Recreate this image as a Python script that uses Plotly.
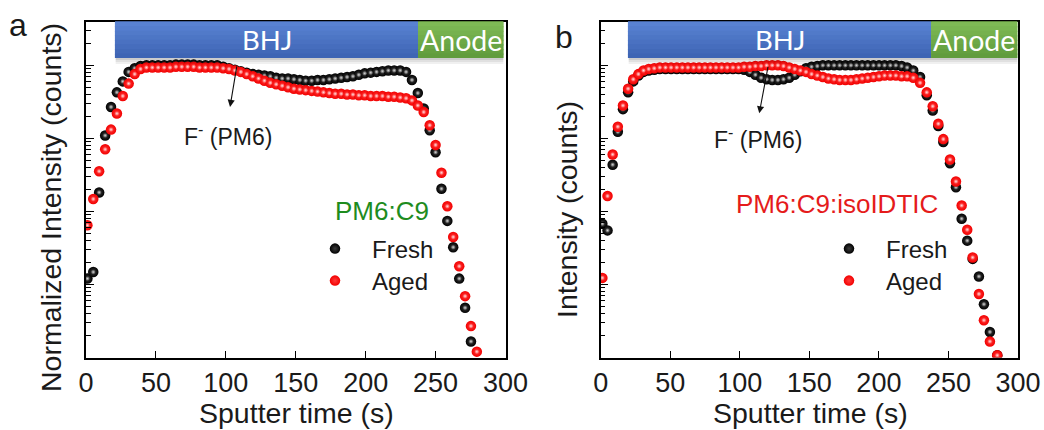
import numpy as np
import plotly.graph_objects as go

# ---------------- data ----------------
# Sputter time (s), panel a (PM6:C9)
time_a = [1.0, 5.2, 9.4, 13.7, 17.9, 22.1, 26.3, 30.5, 34.8, 39.0,
          43.2, 47.4, 51.6, 55.9, 60.1, 64.3, 68.5, 72.7, 77.0, 81.2,
          85.4, 89.6, 93.8, 98.1, 102.3, 106.5, 110.7, 114.9, 119.2, 123.4,
          127.6, 131.8, 136.0, 140.3, 144.5, 148.7, 152.9, 157.1, 161.4, 165.6,
          169.8, 174.0, 178.2, 182.5, 186.7, 190.9, 195.1, 199.3, 203.6, 207.8,
          212.0, 216.2, 220.4, 224.7, 228.9, 233.1, 237.3, 241.5, 245.8, 250.0,
          254.2, 258.4, 262.6, 266.9, 271.1, 275.3, 279.5]

# F- (PM6) intensity, log10 of counts
fresh_a_log10 = [1.08, 1.17, 2.26, 3.04, 3.43, 3.63, 3.78, 3.91, 3.96, 3.99,
                 4.00, 4.00, 4.00, 4.00, 4.00, 4.01, 4.01, 4.01, 4.01, 4.00,
                 4.00, 4.00, 4.00, 3.98, 3.96, 3.94, 3.92, 3.90, 3.88, 3.87,
                 3.86, 3.85, 3.83, 3.82, 3.82, 3.81, 3.80, 3.79, 3.79, 3.80,
                 3.80, 3.81, 3.82, 3.83, 3.84, 3.85, 3.87, 3.89, 3.90, 3.91,
                 3.92, 3.93, 3.93, 3.93, 3.91, 3.80, 3.62, 3.41, 3.11, 2.81,
                 2.31, 1.87, 1.51, 1.08, 0.68, 0.22, -0.25]
aged_a_log10 = [1.81, 2.17, 2.55, 2.85, 3.12, 3.34, 3.58, 3.75, 3.88, 3.95,
                3.97, 3.97, 3.97, 3.97, 3.97, 3.98, 3.98, 3.98, 3.98, 3.97,
                3.97, 3.97, 3.97, 3.96, 3.95, 3.93, 3.91, 3.88, 3.85, 3.82,
                3.79, 3.76, 3.74, 3.72, 3.70, 3.68, 3.67, 3.66, 3.65, 3.64,
                3.63, 3.62, 3.61, 3.61, 3.60, 3.60, 3.59, 3.59, 3.58, 3.58,
                3.58, 3.57, 3.57, 3.56, 3.55, 3.52, 3.45, 3.36, 3.18, 2.91,
                2.53, 2.07, 1.65, 1.25, 0.84, 0.43, 0.08]

# Sputter time (s), panel b (PM6:C9:isoIDTIC)
time_b = [1.2, 4.9, 8.6, 12.3, 16.0, 19.7, 23.4, 27.1, 30.8, 34.5,
          38.5, 42.5, 46.6, 50.6, 54.7, 58.7, 62.7, 66.8, 70.8, 74.9,
          78.9, 82.9, 87.0, 91.0, 95.1, 99.1, 103.1, 107.2, 111.2, 115.3,
          119.3, 123.3, 127.4, 131.4, 135.5, 139.5, 143.5, 147.6, 151.6, 155.7,
          159.7, 163.7, 167.8, 171.8, 175.9, 179.9, 183.9, 188.0, 192.0, 196.1,
          200.1, 204.1, 208.2, 212.2, 216.3, 220.3,
          224.7, 229.6, 234.4, 238.7, 242.7, 246.3, 251.1, 255.4, 259.5, 263.5,
          267.4, 271.9, 275.5, 279.8, 285.1]
fresh_b_log10 = [1.83, 1.74, 2.64, 3.09, 3.40, 3.63, 3.78, 3.86, 3.91, 3.93,
                 3.94, 3.95, 3.95, 3.95, 3.95, 3.95, 3.95, 3.95, 3.95, 3.95,
                 3.95, 3.95, 3.95, 3.95, 3.95, 3.95, 3.94, 3.91, 3.87, 3.83,
                 3.81, 3.80, 3.80, 3.81, 3.83, 3.87, 3.92, 3.96, 3.98, 3.99,
                 4.00, 4.00, 4.00, 4.00, 4.00, 4.00, 4.00, 4.00, 4.00, 4.00,
                 4.00, 4.00, 4.00, 4.00, 3.99, 3.97,
                 3.93, 3.84, 3.59, 3.38, 3.17, 2.95, 2.66, 2.33, 1.90, 1.60,
                 1.35, 1.11, 0.73, 0.35, 0.03]
aged_b_log10 = [1.09, 2.21, 2.78, 3.16, 3.45, 3.68, 3.81, 3.88, 3.93, 3.95,
                3.96, 3.97, 3.97, 3.97, 3.97, 3.97, 3.97, 3.97, 3.97, 3.97,
                3.97, 3.97, 3.97, 3.97, 3.97, 3.97, 3.98, 3.98, 3.99, 3.99,
                4.00, 4.00, 4.00, 3.99, 3.97, 3.95, 3.93, 3.91, 3.88, 3.86,
                3.84, 3.82, 3.81, 3.80, 3.80, 3.80, 3.81, 3.82, 3.83, 3.84,
                3.85, 3.86, 3.86, 3.86, 3.85, 3.85,
                3.83, 3.76, 3.63, 3.44, 3.20, 2.99, 2.71, 2.41, 2.08, 1.75,
                1.37, 0.87, 0.51, 0.22, 0.03]

series_names = ["Fresh", "Aged"]
sample_names = ["PM6:C9", "PM6:C9:isoIDTIC"]
layer_names = ["BHJ", "Anode"]
# layer boundaries along the sputter-time axis (s)
layers_a = [20.7, 237.5, 298.5]
layers_b = [19.6, 237.6, 299.5]

# ---------------- style ----------------
W, H = 1044, 430
TXT = "#1a1a1a"
FONT = "Liberation Sans"
# (body colour, soft body centre, highlight centre)
BALL_BLACK = ("#000000", "#3c3c3c", "#d8d8d8")
BALL_RED = ("#f20000", "#ff3a3a", "#ffe0e0")

# plot-area boxes in pixels
box_a = (86, 505.5)
box_b = (600.7, 1018)
top_px, bot_px = 21.5, 357.5


def px_x(p):
    return p / W


def px_y(p):
    return 1 - p / H


def mix(c1, c2, f):
    a = [int(c1[i:i + 2], 16) for i in (1, 3, 5)]
    b = [int(c2[i:i + 2], 16) for i in (1, 3, 5)]
    return "#" + "".join(f"{round(x + (y - x) * f):02x}" for x, y in zip(a, b))


fig = go.Figure()

# one single-entry legend per series so each key can be placed freely
panels = [
    ("x", "y", ("legend", "legend2"), time_a, fresh_a_log10, aged_a_log10),
    ("x2", "y2", ("legend3", "legend4"), time_b, fresh_b_log10, aged_b_log10),
]
for xa, ya, lgs, t, fresh, aged in panels:
    for name, vals, (body, soft, hi), lg in [
            (series_names[0], fresh, BALL_BLACK, lgs[0]),
            (series_names[1], aged, BALL_RED, lgs[1])]:
        yv = np.power(10.0, vals)
        # shaded ball
        fig.add_trace(go.Scatter(
            x=t, y=yv, mode="markers", name=name,
            xaxis=xa, yaxis=ya, legend=lg,
            marker=dict(size=10.5, color=body, line=dict(width=0),
                        gradient=dict(type="radial", color=soft)),
            cliponaxis=True, hoverinfo="skip",
        ))
        # specular highlight on each ball
        fig.add_trace(go.Scatter(
            x=t, y=yv, mode="markers", showlegend=False,
            xaxis=xa, yaxis=ya,
            marker=dict(size=4.5, color=soft, line=dict(width=0),
                        gradient=dict(type="radial", color=hi)),
            cliponaxis=True, hoverinfo="skip",
        ))

xcommon = dict(range=[0, 300], tick0=0, dtick=50, ticks="inside", ticklen=7,
               tickwidth=1.3, tickcolor="black", showline=True, linecolor="black",
               linewidth=1.5, mirror=True, showgrid=False, zeroline=False,
               tickfont=dict(family=FONT, size=27, color=TXT), automargin=False,
               fixedrange=True)
ycommon = dict(type="log", range=[0, 4.6], dtick=1, ticks="inside", ticklen=8,
               tickwidth=1.3, tickcolor="black", showticklabels=False,
               minor=dict(ticks="inside", ticklen=5, tickwidth=1.2,
                          tickcolor="black", dtick="D1", showgrid=False),
               showline=True, linecolor="black", linewidth=1.5, mirror=True,
               showgrid=False, zeroline=False, automargin=False, fixedrange=True)

legend_style = dict(xanchor="left", yanchor="middle", bgcolor="rgba(0,0,0,0)",
                    font=dict(family=FONT, size=24, color=TXT), itemwidth=64,
                    tracegroupgap=0, borderwidth=0)

ydom = [px_y(bot_px), px_y(top_px)]
fig.update_layout(
    width=W, height=H, margin=dict(l=0, r=0, t=0, b=0),
    paper_bgcolor="white", plot_bgcolor="white",
    xaxis=dict(domain=[px_x(box_a[0]), px_x(box_a[1])], anchor="y", **xcommon),
    yaxis=dict(domain=ydom, anchor="x", **ycommon),
    xaxis2=dict(domain=[px_x(box_b[0]), px_x(box_b[1])], anchor="y2", **xcommon),
    yaxis2=dict(domain=ydom, anchor="x2", **ycommon),
    legend=dict(x=px_x(298), y=px_y(249), **legend_style),
    legend2=dict(x=px_x(298), y=px_y(281), **legend_style),
    legend3=dict(x=px_x(812), y=px_y(249), **legend_style),
    legend4=dict(x=px_x(812), y=px_y(281), **legend_style),
    showlegend=True,
)

# layer bars (BHJ / Anode) across the top of each panel
bar_bottom = (bot_px - 58) / (bot_px - top_px)
bar_h = 1 - bar_bottom
bar_mid_px = 40
n_bands = 8
shapes = []
annotations = []
for xa, ya, bounds in [("x", "y", layers_a), ("x2", "y2", layers_b)]:
    yd = ya + " domain"
    x0, x1, x2 = bounds
    # soft shadow under the bars
    for k, alpha in enumerate([0.20, 0.12, 0.06]):
        shapes.append(dict(type="rect", xref=xa, yref=yd, x0=x0 + 0.5, x1=x2,
                           y0=bar_bottom - 0.006 * (k + 1), y1=bar_bottom - 0.006 * k,
                           layer="above", fillcolor=f"rgba(0,0,0,{alpha})",
                           line=dict(width=0)))
    for (a, b, top_c, bot_c) in [(x0, x1, "#5b84d4", "#3c63b2"),
                                 (x1, x2, "#80bc57", "#5f9a3b")]:
        # solid base, then overlapping bands for a smooth vertical shading
        shapes.append(dict(type="rect", xref=xa, yref=yd, x0=a, x1=b,
                           y0=bar_bottom, y1=1, layer="above",
                           fillcolor=mix(top_c, bot_c, 0.5), line=dict(width=0)))
        for k in range(n_bands):
            f0 = k / n_bands
            f1 = (k + 1) / n_bands
            shapes.append(dict(type="rect", xref=xa, yref=yd, x0=a, x1=b,
                               y0=max(bar_bottom, 1 - bar_h * f1 - 0.004),
                               y1=1 - bar_h * f0, layer="above",
                               fillcolor=mix(top_c, bot_c, (k + 0.5) / n_bands),
                               line=dict(width=0)))
    for label, cx, size in [(layer_names[0], (x0 + x1) / 2, 27.5),
                            (layer_names[1], (x1 + x2) / 2, 28.5)]:
        annotations.append(dict(text=label, xref=xa, yref="paper", x=cx,
                                y=px_y(bar_mid_px), xanchor="center",
                                yanchor="middle", showarrow=False,
                                font=dict(family="Lato", size=size, color="white")))

# F- (PM6) labels with arrows pointing at the fresh curve
for xa, ya, tip_t, tip_log, ax, ay, lx, ly in [
        ("x", "y", 103, 3.43, 7, -42, 227.5, 135),
        ("x2", "y2", 114, 3.343, 9, -48, 758, 138)]:
    annotations.append(dict(text="", xref=xa, yref=ya, x=tip_t, y=tip_log,
                            showarrow=True, arrowhead=2, arrowsize=1.3,
                            arrowwidth=1.1, arrowcolor="#111", ax=ax, ay=ay,
                            axref="pixel", ayref="pixel", standoff=0))
    annotations.append(dict(text="F<sup>-</sup> (PM6)", xref="paper", yref="paper",
                            x=px_x(lx), y=px_y(ly), xanchor="center",
                            yanchor="middle", showarrow=False,
                            font=dict(family=FONT, size=23, color=TXT)))

# sample names
annotations.append(dict(text=sample_names[0], xref="paper", yref="paper",
                        x=px_x(381.5), y=px_y(211), xanchor="center",
                        yanchor="middle", showarrow=False,
                        font=dict(family=FONT, size=26, color="#1e8c1e")))
annotations.append(dict(text=sample_names[1], xref="paper", yref="paper",
                        x=px_x(836.5), y=px_y(204), xanchor="center",
                        yanchor="middle", showarrow=False,
                        font=dict(family=FONT, size=26, color="#e51b1b")))

# axis titles
for text, x, y, ang in [("Sputter time (s)", 296, 413, 0),
                        ("Sputter time (s)", 810, 413, 0),
                        ("Normalized Intensity (counts)", 51, 208, -90),
                        ("Intensity (counts)", 567, 210, -90)]:
    annotations.append(dict(text=text, xref="paper", yref="paper", x=px_x(x),
                            y=px_y(y), xanchor="center", yanchor="middle",
                            showarrow=False, textangle=ang,
                            font=dict(family=FONT, size=28.5, color=TXT)))

# panel letters
for text, x, y in [("a", 18, 25), ("b", 564, 37)]:
    annotations.append(dict(text=text, xref="paper", yref="paper", x=px_x(x),
                            y=px_y(y), xanchor="center", yanchor="middle",
                            showarrow=False,
                            font=dict(family=FONT, size=32, color=TXT)))

fig.update_layout(shapes=shapes, annotations=annotations)
fig.write_html("out.html")
